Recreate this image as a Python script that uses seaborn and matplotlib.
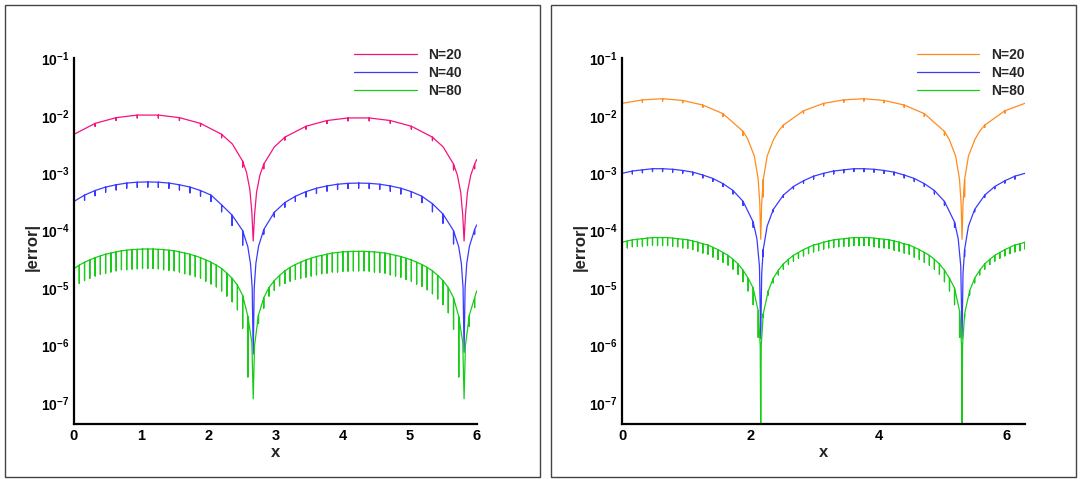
import numpy as np
import pandas as pd
import matplotlib
matplotlib.use('Agg')
import matplotlib.pyplot as plt
import seaborn as sns
from matplotlib.patches import Rectangle

# All error values are stored as log10(|error|).
# Each curve: value on top of each notch (on the grid k*2pi/N), the notch length in decades
# (0 = no notch) and a few extra points around the deep zeros.

# ---------------- left panel (x in 0..6) ----------------
L20_top = [-2.32, -2.13, -2.03, -1.985, -1.985, -2.03, -2.13, -2.32, -2.79, -2.84,
           -2.37, -2.18, -2.08, -2.035, -2.035, -2.08, -2.18, -2.37, -2.84, -2.84]
L20_notch = [0.0, 0.05, 0.05, 0.05, 0.05, 0.05, 0.05, 0.06, 0.10, 0.08,
             0.05, 0.05, 0.05, 0.05, 0.05, 0.05, 0.05, 0.06, 0.10, 0.08]
L20_xe = [2.36, 2.57, 2.62, 2.65, 2.67, 2.69, 2.72, 2.77, 2.985,
          5.50, 5.712, 5.762, 5.792, 5.812, 5.832, 5.862, 5.912, 6.0]
L20_ye = [-2.49, -2.98, -3.28, -3.68, -4.18, -3.73, -3.33, -3.03, -2.54,
          -2.54, -3.03, -3.33, -3.73, -4.18, -3.73, -3.33, -3.03, -2.76]

L40_top = [-3.49, -3.38, -3.30, -3.24, -3.20, -3.17, -3.155, -3.15, -3.155, -3.17,
           -3.20, -3.24, -3.30, -3.38, -3.55, -3.73, -4.00, -6.15, -3.98, -3.68,
           -3.51, -3.40, -3.32, -3.26, -3.22, -3.19, -3.175, -3.17, -3.175, -3.19,
           -3.22, -3.26, -3.32, -3.40, -3.53, -3.71, -4.00, -6.12, -3.98]
L40_notch = [0.0, 0.09, 0.09, 0.09, 0.09, 0.09, 0.09, 0.09, 0.09, 0.09,
             0.09, 0.10, 0.10, 0.11, 0.12, 0.18, 0.25, 0.0, 0.08, 0.08,
             0.08, 0.09, 0.09, 0.09, 0.09, 0.09, 0.09, 0.09, 0.09, 0.09,
             0.09, 0.10, 0.10, 0.11, 0.14, 0.16, 0.23, 0.0, 0.08]
L40_xe = [2.59, 2.63, 2.655, 2.685, 2.71, 2.75, 5.732, 5.772, 5.797, 5.827, 5.852, 5.892, 6.0]
L40_ye = [-4.28, -4.58, -5.0, -5.0, -4.57, -4.27, -4.28, -4.58, -5.0, -5.0, -4.57, -4.27, -3.90]

L80_top = [-4.66, -4.60, -4.55, -4.51, -4.47, -4.44, -4.41, -4.39, -4.37, -4.35,
           -4.34, -4.33, -4.325, -4.32, -4.32, -4.32, -4.325, -4.33, -4.34, -4.35,
           -4.37, -4.39, -4.41, -4.44, -4.47, -4.51, -4.55, -4.60, -4.66, -4.74,
           -4.83, -4.95, -5.13, -5.50, -6.93, -5.47, -5.17, -4.99, -4.87, -4.78,
           -4.70, -4.64, -4.59, -4.55, -4.51, -4.48, -4.45, -4.43, -4.41, -4.39,
           -4.38, -4.37, -4.365, -4.36, -4.36, -4.36, -4.365, -4.37, -4.38, -4.39,
           -4.41, -4.43, -4.45, -4.48, -4.51, -4.55, -4.59, -4.64, -4.70, -4.78,
           -4.87, -4.99, -5.17, -5.50, -6.93, -5.47, -5.17]
L80_notch = [0.31, 0.32, 0.32, 0.32, 0.32, 0.32, 0.33, 0.33, 0.33, 0.33,
             0.34, 0.34, 0.34, 0.34, 0.34, 0.34, 0.34, 0.35, 0.35, 0.35,
             0.35, 0.36, 0.36, 0.36, 0.36, 0.37, 0.38, 0.38, 0.39, 0.40,
             0.41, 0.43, 0.57, 1.05, 0.0, 0.15, 0.18, 0.15, 0.17, 0.18,
             0.22, 0.24, 0.26, 0.28, 0.30, 0.31, 0.32, 0.32, 0.33, 0.33,
             0.34, 0.34, 0.34, 0.34, 0.34, 0.34, 0.34, 0.35, 0.35, 0.35,
             0.36, 0.36, 0.36, 0.37, 0.37, 0.38, 0.38, 0.39, 0.40, 0.41,
             0.42, 0.44, 0.55, 1.05, 0.0, 0.20, 0.17]
L80_xe = [2.65, 2.69, 5.792, 5.832, 6.0]
L80_ye = [-5.95, -6.0, -5.95, -6.0, -5.05]

# ---------------- right panel (x in 0..2pi) ----------------
R20_top = [-1.78, -1.72, -1.70, -1.73, -1.81, -1.96, -2.27, -3.11, -2.16, -1.91,
           -1.78, -1.72, -1.70, -1.73, -1.81, -1.96, -2.27, -3.11, -2.16, -1.91, -1.78]
R20_notch = [0.0, 0.04, 0.04, 0.04, 0.04, 0.05, 0.07, 0.30, 0.04, 0.04,
             0.04, 0.04, 0.04, 0.04, 0.04, 0.05, 0.07, 0.30, 0.04, 0.04, 0.0]
R20_xe = [1.96, 2.06, 2.12, 2.145, 2.16, 2.175, 2.26, 2.36, 2.44,
          5.101, 5.201, 5.261, 5.286, 5.301, 5.316, 5.401, 5.501, 5.58]
R20_ye = [-2.41, -2.70, -3.10, -3.52, -4.15, -3.52, -2.70, -2.41, -2.26,
          -2.41, -2.70, -3.10, -3.52, -4.15, -3.52, -2.70, -2.41, -2.26]

R40_top = [-3.00, -2.96, -2.94, -2.92, -2.92, -2.93, -2.95, -2.98, -3.03, -3.09,
           -3.18, -3.30, -3.49, -3.85, -4.33, -3.63, -3.38, -3.23, -3.13, -3.05,
           -3.00, -2.96, -2.94, -2.92, -2.92, -2.93, -2.95, -2.98, -3.03, -3.09,
           -3.18, -3.30, -3.49, -3.85, -4.33, -3.63, -3.38, -3.23, -3.13, -3.05, -3.00]
R40_notch = [0.0, 0.05, 0.05, 0.05, 0.05, 0.05, 0.05, 0.05, 0.05, 0.05,
             0.05, 0.06, 0.07, 0.09, 0.12, 0.04, 0.04, 0.04, 0.04, 0.05,
             0.05, 0.05, 0.05, 0.05, 0.05, 0.05, 0.05, 0.05, 0.05, 0.05,
             0.05, 0.06, 0.07, 0.09, 0.12, 0.04, 0.04, 0.04, 0.04, 0.05, 0.0]
R40_xe = [2.10, 2.14, 2.16, 2.175, 2.26, 5.241, 5.281, 5.301, 5.316, 5.401]
R40_ye = [-4.14, -4.62, -5.88, -4.75, -3.92, -4.14, -4.62, -5.88, -4.75, -3.92]

R80_top = [-4.20, -4.18, -4.16, -4.15, -4.14, -4.13, -4.12, -4.12, -4.12, -4.12,
           -4.13, -4.14, -4.15, -4.16, -4.18, -4.20, -4.23, -4.25, -4.29, -4.33,
           -4.38, -4.43, -4.50, -4.58, -4.69, -4.83, -5.00, -5.40, -5.45, -5.05,
           -4.83, -4.69, -4.58, -4.50, -4.43, -4.38, -4.33, -4.29, -4.25, -4.23,
           -4.20, -4.18, -4.16, -4.15, -4.14, -4.13, -4.12, -4.12, -4.12, -4.12,
           -4.13, -4.14, -4.15, -4.16, -4.18, -4.20, -4.23, -4.25, -4.29, -4.33,
           -4.38, -4.43, -4.50, -4.58, -4.69, -4.83, -5.00, -5.40, -5.45, -5.05,
           -4.83, -4.69, -4.58, -4.50, -4.43, -4.38, -4.33, -4.29, -4.25, -4.23, -4.20]
R80_notch = [0.11, 0.12, 0.12, 0.12, 0.13, 0.13, 0.13, 0.14, 0.14, 0.14,
             0.14, 0.14, 0.15, 0.15, 0.15, 0.16, 0.16, 0.16, 0.17, 0.17,
             0.17, 0.17, 0.17, 0.18, 0.20, 0.22, 0.29, 0.46, 0.06, 0.07,
             0.08, 0.08, 0.09, 0.09, 0.10, 0.10, 0.11, 0.11, 0.12, 0.12,
             0.12, 0.12, 0.13, 0.13, 0.13, 0.14, 0.14, 0.14, 0.14, 0.14,
             0.15, 0.15, 0.15, 0.15, 0.16, 0.16, 0.16, 0.16, 0.17, 0.17,
             0.17, 0.17, 0.17, 0.18, 0.20, 0.22, 0.29, 0.46, 0.06, 0.07,
             0.08, 0.08, 0.09, 0.09, 0.10, 0.10, 0.11, 0.11, 0.12, 0.12, 0.12]
R80_xe = [2.152, 2.16, 2.168, 5.293, 5.301, 5.309]
R80_ye = [-6.0, -7.45, -6.0, -6.0, -7.45, -6.0]

labels = ['N=20', 'N=40', 'N=80']
left_colors = ['#f5127f', '#3a3aff', '#18cc18']
right_colors = ['#ff8c1e', '#3a3aff', '#18cc18']
ytick_exp = [-1, -2, -3, -4, -5, -6, -7]


def build(n, top, notch, xe, ye, name):
    # points of the N-point mesh on [0, 2pi); each notch drawn as a drop and back
    grid = np.arange(len(top)) * 2 * np.pi / n
    pts = []
    for x, t, d in zip(grid, top, notch):
        pts.append((x, t))
        if d > 0:
            pts.append((x, t - d))
            pts.append((x, t))
    pts += list(zip(xe, ye))
    pts.sort(key=lambda p: p[0])
    df = pd.DataFrame(pts, columns=['x', 'logerr'])
    df['err'] = 10.0 ** df['logerr']
    df['N'] = name
    return df


left_df = pd.concat([
    build(20, L20_top, L20_notch, L20_xe, L20_ye, labels[0]),
    build(40, L40_top, L40_notch, L40_xe, L40_ye, labels[1]),
    build(80, L80_top, L80_notch, L80_xe, L80_ye, labels[2]),
])
right_df = pd.concat([
    build(20, R20_top, R20_notch, R20_xe, R20_ye, labels[0]),
    build(40, R40_top, R40_notch, R40_xe, R40_ye, labels[1]),
    build(80, R80_top, R80_notch, R80_xe, R80_ye, labels[2]),
])

sns.set_theme(style='white')
plt.rcParams['font.family'] = ['Liberation Sans', 'DejaVu Sans']
plt.rcParams['font.weight'] = 'bold'
plt.rcParams['mathtext.fontset'] = 'custom'
plt.rcParams['mathtext.rm'] = 'Liberation Sans:bold'
plt.rcParams['mathtext.bf'] = 'Liberation Sans:bold'
plt.rcParams['mathtext.it'] = 'Liberation Sans:bold'

fig = plt.figure(figsize=(10.81, 4.79), dpi=100)
W, H = 1081.0, 479.0

# panel frames
fig.add_artist(Rectangle((5 / W, 1 - 477 / H), 535 / W, 472 / H, transform=fig.transFigure,
                         fill=False, edgecolor='#444444', lw=1.0))
fig.add_artist(Rectangle((551 / W, 1 - 477 / H), 525 / W, 472 / H, transform=fig.transFigure,
                         fill=False, edgecolor='#444444', lw=1.0))

ax1 = fig.add_axes([74 / W, 55 / H, 402.7 / W, 366 / H])
ax2 = fig.add_axes([622.3 / W, 55 / H, 402.7 / W, 366 / H])

panels = [(ax1, left_df, left_colors, (0, 6), [0, 1, 2, 3, 4, 5, 6], 354),
          (ax2, right_df, right_colors, (0, 2 * np.pi), [0, 2, 4, 6], 917)]

for ax, df, cols, xlim, xt, leg_x in panels:
    sns.lineplot(data=df, x='x', y='err', hue='N', units='N', estimator=None, sort=False,
                 palette=cols, linewidth=0.9, legend=False, ax=ax)
    ax.set_yscale('log')
    ax.set_xlim(*xlim)
    ax.set_ylim(10 ** -7.37, 10 ** -0.99)
    ax.set_xticks(xt)
    ax.set_xticklabels([str(v) for v in xt], fontsize=10.5, fontweight='bold')
    ax.set_yticks([10.0 ** e for e in ytick_exp])
    ax.set_yticklabels([r'$\mathbf{10^{%d}}$' % e for e in ytick_exp], fontsize=10)
    ax.yaxis.set_minor_locator(matplotlib.ticker.NullLocator())
    ax.tick_params(axis='both', length=0, pad=3.5, colors='black')
    ax.set_xlabel('x', fontsize=12, fontweight='bold', labelpad=1.5)
    ax.set_ylabel('|error|', fontsize=12, fontweight='bold')
    ax.yaxis.set_label_coords(-0.086, 0.484)
    for side in ['top', 'right']:
        ax.spines[side].set_visible(False)
    for side in ['left', 'bottom']:
        ax.spines[side].set_color('black')
        ax.spines[side].set_linewidth(1.6)
    ax.legend(ax.get_lines()[:3], labels, loc='upper left', frameon=False,
              bbox_to_anchor=(leg_x / W, 1 - 48 / H), bbox_transform=fig.transFigure,
              borderaxespad=0, borderpad=0, handlelength=4.5, handletextpad=0.85,
              labelspacing=0.28, prop={'weight': 'bold', 'size': 10})

fig.savefig('out.png', dpi=100)
